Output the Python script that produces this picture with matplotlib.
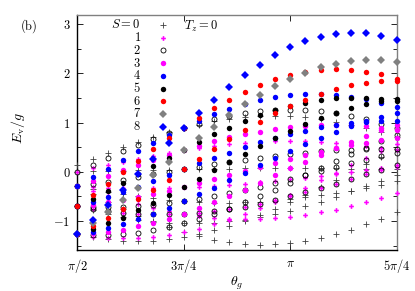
import numpy as np
import matplotlib
matplotlib.use("Agg")
import matplotlib.pyplot as plt

plt.rcParams['mathtext.fontset'] = 'cm'
plt.rcParams['font.family'] = 'serif'
plt.rcParams['font.serif'] = ['DejaVu Serif']

# theta grid: pi/2 + k*pi/28, k = 0..21  (22 columns)
k_index = list(range(22))

# Energy levels, one inner list per level (22 columns each)
S0 = [[-1.27, -1.33, -1.37, -1.40, -1.41, -1.40, -1.37, -1.33, -1.27, -1.19, -1.10, -1.00, -0.88, -0.75, -0.61, -0.47, -0.31, -0.16, 0.00, 0.16, 0.31, 0.47],
      [-0.70, -0.78, -0.86, -0.92, -0.97, -1.01, -1.04, -1.05, -1.05, -1.04, -1.01, -0.97, -0.92, -0.86, -0.79, -0.70, -0.61, -0.51, -0.40, -0.29, -0.18, -0.06],
      [-0.29, -0.35, -0.41, -0.46, -0.50, -0.54, -0.58, -0.60, -0.62, -0.63, -0.63, -0.62, -0.61, -0.59, -0.56, -0.52, -0.48, -0.43, -0.38, -0.32, -0.26, -0.19],
      [0.00, 0.01, 0.02, 0.02, 0.03, 0.04, 0.04, 0.05, 0.06, 0.06, 0.06, 0.07, 0.07, 0.07, 0.07, 0.07, 0.07, 0.07, 0.06, 0.06, 0.06, 0.05],
      [0.13, 0.26, 0.38, 0.50, 0.61, 0.71, 0.81, 0.89, 0.96, 1.03, 1.07, 1.11, 1.13, 1.14, 1.13, 1.11, 1.07, 1.02, 0.96, 0.89, 0.80, 0.71],
      [-0.29, -0.45, -0.61, -0.75, -0.89, -1.02, -1.13, -1.23, -1.31, -1.38, -1.43, -1.46, -1.48, -1.47, -1.45, -1.41, -1.35, -1.27, -1.18, -1.07, -0.95, -0.82]]
S1 = [[-1.27, -1.32, -1.34, -1.35, -1.35, -1.33, -1.29, -1.23, -1.16, -1.07, -0.97, -0.86, -0.74, -0.61, -0.47, -0.32, -0.17, -0.02, 0.13, 0.28, 0.43, 0.57],
      [-0.70, -0.75, -0.79, -0.83, -0.85, -0.86, -0.86, -0.85, -0.83, -0.80, -0.76, -0.71, -0.65, -0.58, -0.50, -0.42, -0.33, -0.24, -0.15, -0.05, 0.04, 0.14],
      [-0.29, -0.31, -0.32, -0.32, -0.33, -0.33, -0.32, -0.31, -0.30, -0.28, -0.26, -0.24, -0.21, -0.18, -0.15, -0.12, -0.08, -0.04, -0.01, 0.03, 0.07, 0.10],
      [0.00, 0.07, 0.14, 0.21, 0.27, 0.33, 0.39, 0.44, 0.49, 0.53, 0.56, 0.59, 0.61, 0.62, 0.62, 0.62, 0.61, 0.59, 0.56, 0.53, 0.49, 0.44],
      [-0.29, -0.39, -0.49, -0.58, -0.66, -0.73, -0.80, -0.85, -0.89, -0.93, -0.95, -0.96, -0.95, -0.94, -0.91, -0.87, -0.82, -0.77, -0.70, -0.62, -0.53, -0.44]]
S2 = [[-1.27, -1.29, -1.29, -1.27, -1.24, -1.19, -1.13, -1.05, -0.96, -0.86, -0.75, -0.62, -0.49, -0.36, -0.22, -0.07, 0.07, 0.22, 0.36, 0.49, 0.62, 0.75],
      [-0.70, -0.71, -0.72, -0.71, -0.70, -0.67, -0.64, -0.60, -0.55, -0.50, -0.44, -0.37, -0.30, -0.23, -0.15, -0.07, 0.01, 0.09, 0.17, 0.25, 0.32, 0.39],
      [-0.29, -0.25, -0.20, -0.16, -0.10, -0.05, 0.00, 0.05, 0.10, 0.15, 0.20, 0.25, 0.29, 0.33, 0.36, 0.39, 0.42, 0.44, 0.45, 0.46, 0.46, 0.46],
      [0.00, 0.14, 0.28, 0.42, 0.55, 0.67, 0.79, 0.89, 0.98, 1.07, 1.13, 1.19, 1.23, 1.25, 1.26, 1.25, 1.23, 1.19, 1.13, 1.07, 0.98, 0.89],
      [-0.70, -0.75, -0.79, -0.83, -0.85, -0.86, -0.86, -0.85, -0.83, -0.80, -0.76, -0.71, -0.65, -0.58, -0.50, -0.42, -0.33, -0.24, -0.15, -0.05, 0.04, 0.14]]
S3 = [[-1.27, -1.25, -1.22, -1.18, -1.11, -1.04, -0.95, -0.85, -0.74, -0.62, -0.49, -0.36, -0.22, -0.07, 0.07, 0.21, 0.35, 0.48, 0.61, 0.73, 0.85, 0.95],
      [-0.70, -0.67, -0.62, -0.57, -0.52, -0.45, -0.38, -0.31, -0.23, -0.15, -0.07, 0.02, 0.10, 0.18, 0.26, 0.34, 0.41, 0.48, 0.54, 0.59, 0.64, 0.68],
      [-0.29, -0.19, -0.08, 0.03, 0.14, 0.24, 0.34, 0.44, 0.53, 0.62, 0.70, 0.77, 0.82, 0.87, 0.91, 0.94, 0.95, 0.96, 0.95, 0.93, 0.89, 0.85]]
S4 = [[-1.27, -1.22, -1.14, -1.06, -0.96, -0.85, -0.73, -0.60, -0.46, -0.32, -0.17, -0.02, 0.13, 0.28, 0.42, 0.56, 0.69, 0.82, 0.93, 1.03, 1.12, 1.20],
      [-0.70, -0.61, -0.51, -0.41, -0.30, -0.18, -0.07, 0.05, 0.17, 0.28, 0.39, 0.50, 0.60, 0.69, 0.77, 0.84, 0.91, 0.96, 1.00, 1.02, 1.04, 1.04],
      [-0.29, -0.11, 0.06, 0.24, 0.42, 0.58, 0.75, 0.90, 1.04, 1.17, 1.28, 1.38, 1.46, 1.52, 1.56, 1.58, 1.59, 1.57, 1.53, 1.48, 1.40, 1.31]]
S5 = [[-1.27, -1.17, -1.05, -0.93, -0.78, -0.63, -0.48, -0.31, -0.14, 0.03, 0.20, 0.36, 0.53, 0.68, 0.83, 0.97, 1.09, 1.20, 1.30, 1.38, 1.44, 1.49],
      [-0.70, -0.55, -0.38, -0.22, -0.05, 0.12, 0.29, 0.45, 0.61, 0.76, 0.90, 1.03, 1.15, 1.25, 1.34, 1.41, 1.46, 1.50, 1.51, 1.51, 1.48, 1.44]]
S6 = [[-1.27, -1.11, -0.94, -0.76, -0.56, -0.36, -0.16, 0.05, 0.26, 0.46, 0.66, 0.85, 1.02, 1.19, 1.34, 1.47, 1.59, 1.68, 1.76, 1.81, 1.84, 1.85],
      [-0.70, -0.48, -0.24, -0.01, 0.22, 0.46, 0.68, 0.90, 1.10, 1.30, 1.47, 1.63, 1.77, 1.88, 1.97, 2.04, 2.08, 2.09, 2.08, 2.04, 1.98, 1.89]]
S7 = [[-1.27, -1.05, -0.82, -0.58, -0.32, -0.07, 0.19, 0.44, 0.69, 0.92, 1.15, 1.37, 1.56, 1.74, 1.89, 2.02, 2.13, 2.20, 2.25, 2.28, 2.27, 2.23]]
S8 = [[-1.27, -0.98, -0.68, -0.36, -0.05, 0.27, 0.58, 0.89, 1.19, 1.47, 1.73, 1.97, 2.18, 2.37, 2.53, 2.66, 2.75, 2.81, 2.83, 2.82, 2.77, 2.69]]

series = [S0, S1, S2, S3, S4, S5, S6, S7, S8]
labels = [r'$S=0$', r'$1$', r'$2$', r'$3$', r'$4$', r'$5$', r'$6$', r'$7$', r'$8$']
styles = [
    dict(marker='+', ms=4.2, mew=0.6, color='#404040', mfc='none'),
    dict(marker='P', ms=3.4, mew=0.0, color='#ff00ff'),
    dict(marker='o', ms=3.6, mew=0.6, color='#000000', mfc='none'),
    dict(marker='o', ms=3.9, mew=0.0, color='#ff00ff'),
    dict(marker='o', ms=3.9, mew=0.0, color='#0000ff'),
    dict(marker='o', ms=3.9, mew=0.0, color='#000000'),
    dict(marker='o', ms=3.9, mew=0.0, color='#ff0000'),
    dict(marker='D', ms=4.0, mew=0.0, color='#808080'),
    dict(marker='D', ms=4.0, mew=0.0, color='#0000ff'),
]

fig = plt.figure(figsize=(4.15, 2.91), dpi=100)
ax = fig.add_axes([0.1863, 0.1409, 0.7696, 0.8076])

def th(k):
    return np.pi / 2 + k * np.pi / 28

for lev_list, st in zip(series, styles):
    for lev in lev_list:
        xs = [th(k) for k in k_index[:len(lev)]]
        ax.plot(xs, lev, ls='none', clip_on=False, zorder=3, **st)

# legend column (labels right-aligned, markers to the right)
for i, (lab, st) in enumerate(zip(labels, styles)):
    ypix = 25.0 + i * 12.7
    yf = 1 - ypix / 291.0
    fig.text(141 / 415.0, yf, lab, ha='right', va='center', fontsize=9)
    ax.plot([163 / 415.0], [yf], transform=fig.transFigure, ls='none', clip_on=False, **st)
fig.text(184 / 415.0, 1 - 26 / 291.0, r'$T_z=0$', ha='left', va='center', fontsize=9)

ax.set_xlim(np.pi / 2, 5 * np.pi / 4)
ax.set_ylim(-1.59, 3.19)
ax.set_xticks([np.pi / 2, 3 * np.pi / 4, np.pi, 5 * np.pi / 4])
ax.set_xticklabels([r'$\pi/2$', r'$3\pi/4$', r'$\pi$', r'$5\pi/4$'], fontsize=9)
ax.set_yticks([-1, 0, 1, 2, 3])
ax.set_yticklabels([r'$-1$', r'$0$', r'$1$', r'$2$', r'$3$'], fontsize=9)
ax.set_yticks(np.arange(-1.5, 3.01, 0.5), minor=True)
ax.tick_params(direction='in', top=True, right=True, which='both', length=3, width=0.6)
ax.tick_params(which='major', length=4)
ax.tick_params(axis='x', pad=5)
ax.tick_params(axis='y', pad=5)
for s in ['top', 'right']:
    ax.spines[s].set_color('#808080')
for s in ax.spines.values():
    s.set_linewidth(1.0)
ax.set_xlabel(r'$\theta_g$', fontsize=10)
ax.xaxis.set_label_coords((237 - 77.3) / 319.4, -(275 - 250) / 235.0)
ax.set_ylabel(r'$E_{\rm v}/g$', fontsize=10)
ax.yaxis.set_label_coords(-(77.3 - 27) / 319.4, (250 - 128) / 235.0)
fig.text(20 / 415.0, 1 - 26 / 291.0, r'$\mathrm{(b)}$', ha='left', va='center', fontsize=9)
plt.savefig('out.png', dpi=100)
